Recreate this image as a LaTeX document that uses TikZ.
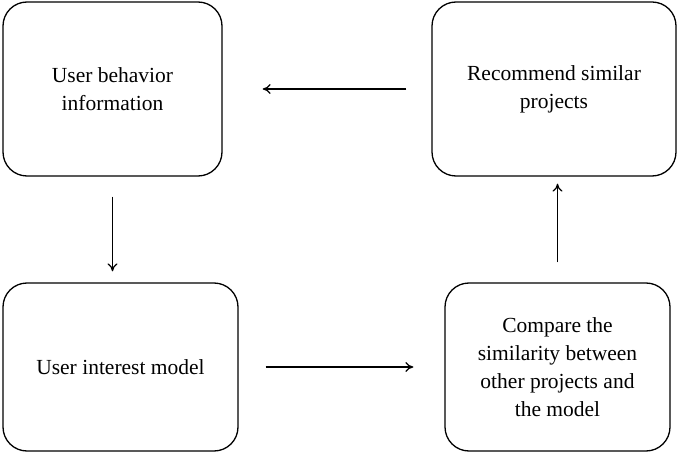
\documentclass[tikz,border=0pt]{standalone}
\usepackage{fontspec}
\setmainfont{Liberation Serif}
\usetikzlibrary{arrows.meta}

\begin{document}
\begin{tikzpicture}[
    x=1pt, y=1pt,
    box/.style={rectangle, draw, line width=1.3pt, rounded corners=24pt, align=center, font=\fontsize{21.5}{28}\selectfont},
    arrow/.style={line width=1.2pt, -{To[length=8pt,width=10pt]}}
]
\useasboundingbox (0,0) rectangle (685,453);

% Boxes
\node[box, minimum width=219pt, minimum height=174pt] (behavior) at (112.5,364) {User behavior\\information};
\node[box, minimum width=244pt, minimum height=174pt] (recommend) at (554,364) {Recommend similar\\projects};
\node[box, minimum width=235pt, minimum height=168pt] (interest) at (120.5,86) {User interest model};
\node[box, minimum width=225pt, minimum height=168pt] (compare) at (557.5,86) {Compare the\\similarity between\\other projects and\\the model};

% Connections
\draw[arrow, shorten <=25pt, shorten >=40pt] (recommend.west) -- (behavior.east);
\draw[arrow, shorten <=20pt, shorten >=11pt] (behavior.south) -- (behavior.south |- interest.north);
\draw[arrow, shorten <=27pt, shorten >=31pt] (interest.east) -- (compare.west);
\draw[arrow, shorten <=20pt, shorten >=7pt] (compare.north) -- (compare.north |- recommend.south);
\end{tikzpicture}
\end{document}
